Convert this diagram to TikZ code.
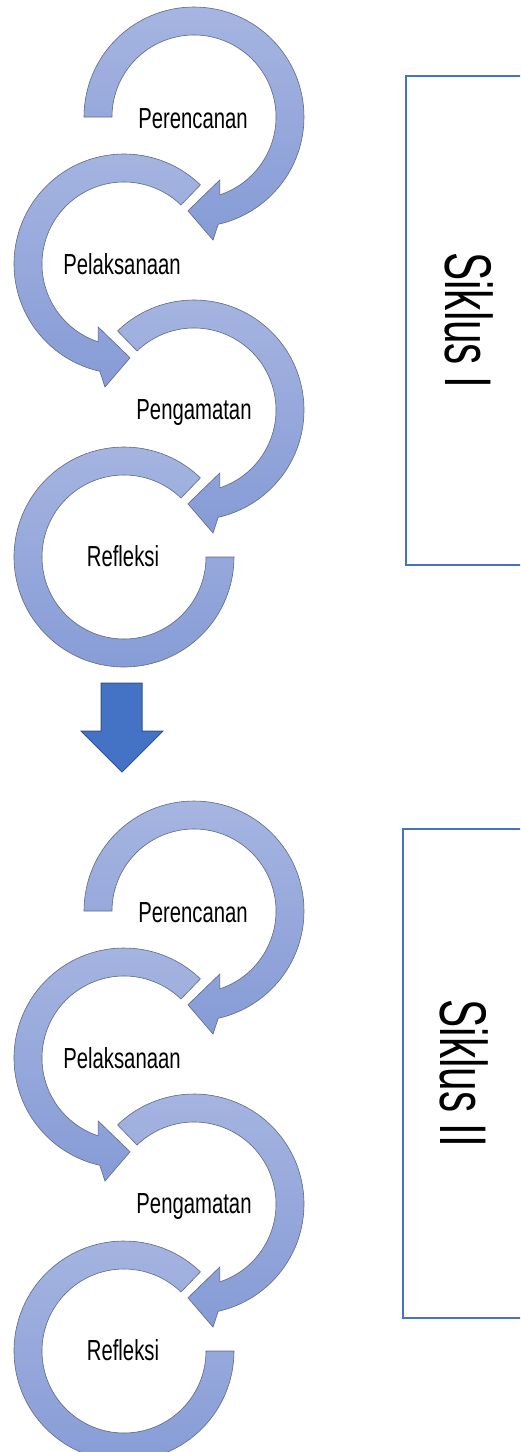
\documentclass[tikz,border=0pt]{standalone}
\usepackage{fontspec}
\setmainfont{Liberation Sans}
\newfontfamily\tahapfont[FakeStretch=0.7]{Liberation Sans}
\newfontfamily\siklusfont[FakeStretch=0.64]{Liberation Sans}
\definecolor{lengkungtop}{RGB}{166,181,225}
\definecolor{lengkungbot}{RGB}{134,155,214}
\definecolor{lengkungline}{RGB}{95,105,130}
\definecolor{accent}{RGB}{68,114,196}
\definecolor{accentdark}{RGB}{47,82,143}

\begin{document}
\begin{tikzpicture}[x=1pt, y=1pt,
  lengkung/.style={top color=lengkungtop, bottom color=lengkungbot, draw=lengkungline, line width=0.6pt},
  tahap/.style={font=\tahapfont\fontsize{29}{30}\selectfont, anchor=base, inner sep=0pt},
  siklus/.style={draw=accent, line width=1.6pt, rotate=-90, minimum width=489pt,
    font=\siklusfont\fontsize{66}{70}\selectfont},
  turun/.style={fill=accent, draw=accentdark, line width=1pt, line join=miter}]
\useasboundingbox (0,0) rectangle (520,-1452);
\clip (0,0) rectangle (520,-1452);

\foreach \off/\nama in {0/I, 794/II} {
\begin{scope}[yshift=-\off]
  % perencanan
  \begin{scope}[shift={(194,-117)}]
    \draw[lengkung] (180:110) arc[start angle=180, end angle=-77.3, radius=110]
      -- (-81.2:124.5) -- (-93.7:94) -- (-67.6:68) -- (-71.6:82)
      arc[start angle=-71.6, end angle=180, radius=82] -- cycle;
  \end{scope}
  % pelaksanaan
  \begin{scope}[shift={(124,-264)}]
    \draw[lengkung] (46:110) arc[start angle=46, end angle=257.3, radius=110]
      -- (261.2:124.5) -- (273.7:94) -- (247.6:68) -- (251.6:82)
      arc[start angle=251.6, end angle=46, radius=82] -- cycle;
  \end{scope}
  % pengamatan
  \begin{scope}[shift={(194,-410)}]
    \draw[lengkung] (134:110) arc[start angle=134, end angle=-77.3, radius=110]
      -- (-81.2:124.5) -- (-93.7:94) -- (-67.6:68) -- (-71.6:82)
      arc[start angle=-71.6, end angle=134, radius=82] -- cycle;
  \end{scope}
  % refleksi
  \begin{scope}[shift={(124,-557)}]
    \draw[lengkung] (46:110) arc[start angle=46, end angle=360, radius=110]
      -- (0:82) arc[start angle=360, end angle=46, radius=82] -- cycle;
  \end{scope}
  \node[tahap] (rencana\nama) at (193,-128) {Perencanan};
  \node[tahap] (laksana\nama) at (122,-274) {Pelaksanaan};
  \node[tahap] (amat\nama) at (194,-419) {Pengamatan};
  \node[tahap] (refleksi\nama) at (123,-566) {Refleksi};
\end{scope}
}

% panah antar siklus
\draw[turun] (101,-683) -- (142,-683) -- (142,-731) -- (163,-731)
  -- (122,-772) -- (81,-731) -- (101,-731) -- cycle;

\node[siklus, minimum height=126pt] (siklus1) at (469,-320.5) {Siklus I};
\node[siklus, minimum height=122pt] (siklus2) at (464,-1073.5) {Siklus II};
\end{tikzpicture}
\end{document}
